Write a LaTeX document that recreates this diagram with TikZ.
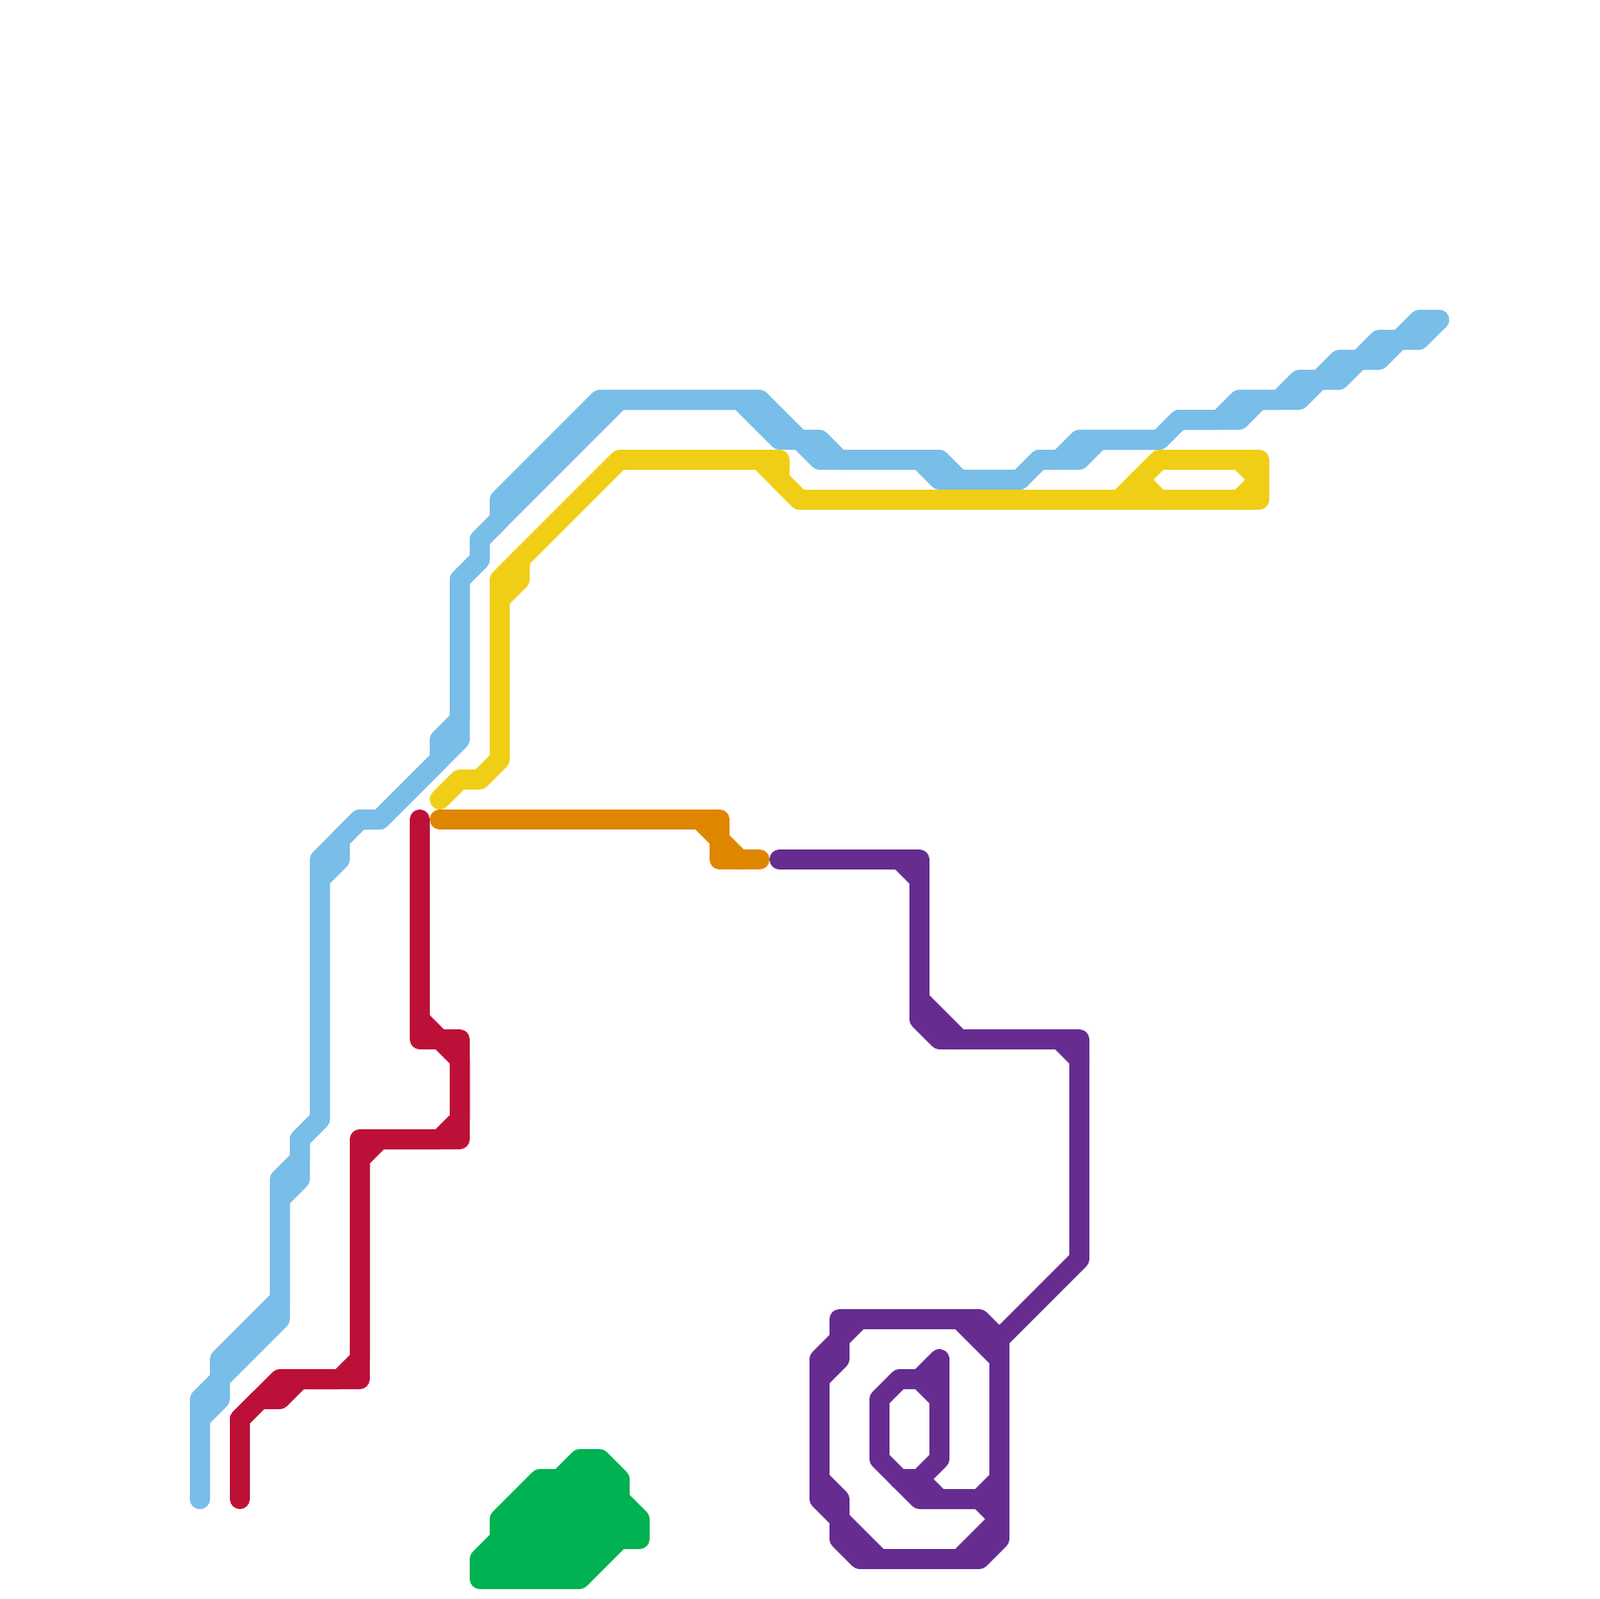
\documentclass[tikz,border=0pt]{standalone}
\definecolor{skyline}{HTML}{79BDE9}
\definecolor{redline}{HTML}{BD1038}
\definecolor{yellowline}{HTML}{F0CE15}
\definecolor{orangeline}{HTML}{DF8600}
\definecolor{purpleline}{HTML}{662C90}
\definecolor{greenline}{HTML}{00B251}
\tikzset{metro/.style={line width=2mm,line cap=round,line join=round}}
\begin{document}
\begin{tikzpicture}[x=.1mm, y=-.1mm]

  \useasboundingbox (0,0) rectangle (1600,1600);

  \begin{scope}[metro,skyline]
    \draw (200,1500) -- (200,1400) -- (220,1380) -- (220,1360) -- (280,1300) -- (280,1180) -- (300,1160) -- (300,1140) -- (320,1120) -- (320,860) -- (360,820) -- (380,820) -- (440,760) -- (440,740) -- (460,720) -- (460,580) -- (480,560) -- (480,540) -- (500,520) -- (500,500) -- (600,400) -- (760,400) -- (800,440) -- (820,440) -- (840,460) -- (940,460) -- (960,480) -- (1020,480) -- (1040,460) -- (1060,460) -- (1080,440) -- (1160,440) -- (1180,420) -- (1220,420) -- (1240,400) -- (1280,400) -- (1300,380) -- (1320,380) -- (1340,360) -- (1360,360) -- (1380,340) -- (1400,340) -- (1420,320) -- (1440,320);
    \draw (200,1500) -- (200,1420) -- (220,1400) -- (220,1380) -- (280,1320) -- (280,1200) -- (300,1180) -- (300,1140) -- (320,1120) -- (320,880) -- (340,860) -- (340,840) -- (360,820) -- (380,820) -- (460,740) -- (460,580) -- (480,560) -- (480,540) -- (620,400) -- (740,400) -- (780,440) -- (800,440) -- (820,460) -- (920,460) -- (940,480) -- (1020,480) -- (1040,460) -- (1080,460) -- (1100,440) -- (1160,440) -- (1180,420) -- (1240,420) -- (1260,400) -- (1300,400) -- (1320,380) -- (1340,380) -- (1360,360) -- (1380,360) -- (1400,340) -- (1420,340) -- (1440,320);
  \end{scope}

  \begin{scope}[metro,yellowline]
    \draw (440,800) -- (460,780) -- (480,780) -- (500,760) -- (500,580) -- (620,460) -- (780,460) -- (780,480) -- (800,500) -- (1260,500) -- (1260,460) -- (1160,460) -- (1120,500);
    \draw (500,600) -- (520,580) -- (520,560);
    \draw (760,460) -- (800,500);
    \draw (1240,460) -- (1260,480) -- (1240,500);
    \draw (1140,480) -- (1160,500);
  \end{scope}

  \begin{scope}[metro,orangeline]
    \draw (440,820) -- (720,820) -- (720,860) -- (760,860);
    \draw (700,820) -- (740,860);
  \end{scope}

  \begin{scope}[metro,redline]
    \draw (420,820) -- (420,1040) -- (440,1040) -- (460,1060) -- (460,1120) -- (440,1140) -- (380,1140) -- (360,1160) -- (360,1360) -- (340,1380) -- (300,1380) -- (280,1400) -- (260,1400) -- (240,1420) -- (240,1500);
    \draw (420,1020) -- (440,1040) -- (460,1040) -- (460,1140) -- (360,1140) -- (360,1380) -- (280,1380) -- (240,1420);
  \end{scope}

  \begin{scope}[metro,purpleline]
    \draw (780,860) -- (920,860) -- (920,1020) -- (940,1040) -- (1080,1040) -- (1080,1260) -- (1000,1340);
    \draw (900,860) -- (920,880);
    \draw (920,1000) -- (960,1040);
    \draw (1060,1040) -- (1080,1060);
    % outer ring
    \draw (980,1320) -- (1000,1340) -- (1000,1540) -- (980,1560) -- (860,1560) -- (840,1540) -- (840,1520) -- (820,1500) -- (820,1360) -- (840,1340) -- (840,1320) -- (980,1320);
    \draw (960,1320) -- (1000,1360);
    \draw (860,1320) -- (840,1340) -- (840,1360) -- (820,1380);
    \draw (820,1480) -- (840,1500) -- (840,1520) -- (880,1560);
    \draw (960,1560) -- (1000,1520) -- (980,1500);
    % inner loop
    \draw (1000,1480) -- (980,1500) -- (920,1500) -- (880,1460) -- (880,1400) -- (900,1380) -- (920,1380) -- (940,1360) -- (940,1460) -- (920,1480) -- (940,1500);
    \draw (900,1480) -- (920,1480);
    \draw (920,1380) -- (940,1400);
  \end{scope}

  \draw[metro,greenline,fill=greenline] (480,1580) -- (580,1580) -- (620,1540) -- (640,1540) -- (640,1520) -- (620,1500) -- (620,1480) -- (600,1460) -- (580,1460) -- (560,1480) -- (540,1480) -- (500,1520) -- (500,1540) -- (480,1560) -- cycle;
\end{tikzpicture}
\end{document}
